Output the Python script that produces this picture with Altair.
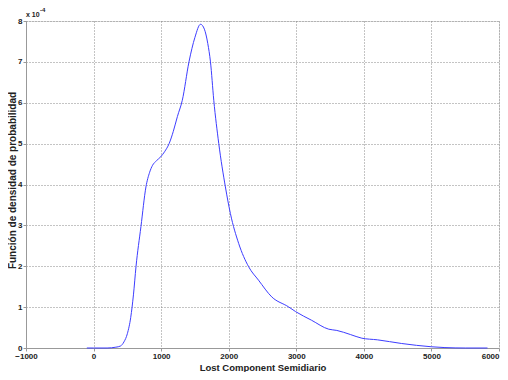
import altair as alt
import pandas as pd

# Lost Component Semidiario (x) and density in units of 1e-4 (y)
x_vals = [-100, 0, 200, 330, 400, 450, 500, 550, 590, 628, 701, 775, 830, 873, 930, 995,
          1050, 1118, 1180, 1240, 1313, 1412, 1500, 1583, 1640, 1690, 1730, 1779,
          1853, 1951, 2025, 2147, 2294, 2441, 2637, 2882, 2990, 3225, 3480, 3600,
          3800, 3970, 4200, 4560, 5000, 5200, 5500, 5830]
dens_e4 = [0, 0, 0, 0.02, 0.05, 0.15, 0.35, 0.75, 1.3, 1.99, 2.97, 3.94, 4.3, 4.47, 4.58, 4.68,
           4.8, 5.0, 5.3, 5.66, 6.06, 7.0, 7.6, 7.92, 7.8, 7.45, 7.0, 6.06,
           5.0, 3.94, 3.29, 2.56, 1.99, 1.66, 1.25, 1.01, 0.89, 0.68, 0.46, 0.43,
           0.33, 0.24, 0.2, 0.11, 0.03, 0.01, 0, 0]

x_ticks = [-1000, 0, 1000, 2000, 3000, 4000, 5000, 6000]
y_ticks = [0, 1, 2, 3, 4, 5, 6, 7, 8]

df = pd.DataFrame({"x": x_vals, "y": dens_e4})

FONT = "Liberation Sans"

x_label_align = {"condition": {"test": "datum.value == 6000", "value": "right"}, "value": "center"}

line = alt.Chart(df).mark_line(color="#3d3dff", strokeWidth=1, interpolate="monotone").encode(
    x=alt.X("x:Q", scale=alt.Scale(domain=[-1000, 6000], nice=False, zero=False),
            axis=alt.Axis(values=x_ticks, title="Lost Component Semidiario", format="d",
                          labelFont=FONT, labelFontSize=8, labelFontWeight="bold",
                          labelColor="#222", labelFlush=False, labelOverlap=False,
                          labelAlign=x_label_align,
                          labelBound=False, labelPadding=1, tickSize=3, tickColor="#999",
                          domainColor="#999", titleFont=FONT, titleFontSize=9.5,
                          titleFontWeight="bold", titleColor="#222", titleY=22,
                          titleBaseline="alphabetic",
                          grid=True, gridColor="#888", gridDash=[1, 2], gridWidth=1)),
    y=alt.Y("y:Q", scale=alt.Scale(domain=[0, 8], nice=False),
            axis=alt.Axis(values=y_ticks, title="Función de densidad de probabilidad",
                          labelFont=FONT, labelFontSize=8, labelFontWeight="bold",
                          labelColor="#222", labelFlush=False, labelOverlap=False,
                          labelBound=False, labelPadding=1, tickSize=3, tickColor="#999",
                          domainColor="#999", titleFont=FONT, titleFontSize=10,
                          titleFontWeight="bold", titleColor="#222", titleX=-10.5,
                          titleY=159, titleBaseline="alphabetic",
                          grid=True, gridColor="#888", gridDash=[1, 2], gridWidth=1)),
)

exp_df = pd.DataFrame({"x": [-1000], "y": [8]})
base_txt = alt.Chart(exp_df).mark_text(text="x 10", font=FONT, fontSize=7, fontWeight="bold",
                                       color="#222", align="left", dx=0, dy=-4,
                                       baseline="alphabetic").encode(
    x="x:Q", y="y:Q")
sup_txt = alt.Chart(exp_df).mark_text(text="-4", font=FONT, fontSize=6, fontWeight="bold",
                                      color="#222", align="left", dx=14, dy=-9,
                                      baseline="alphabetic").encode(
    x="x:Q", y="y:Q")

chart = alt.layer(line, base_txt, sup_txt).properties(
    width=473, height=327,
    autosize=alt.AutoSizeParams(type="none"),
    padding={"left": 18, "top": 13, "right": 1, "bottom": 24},
).configure_view(stroke=None).configure(background="white")

chart.save("out.html", embed_options={"renderer": "svg", "actions": False})
